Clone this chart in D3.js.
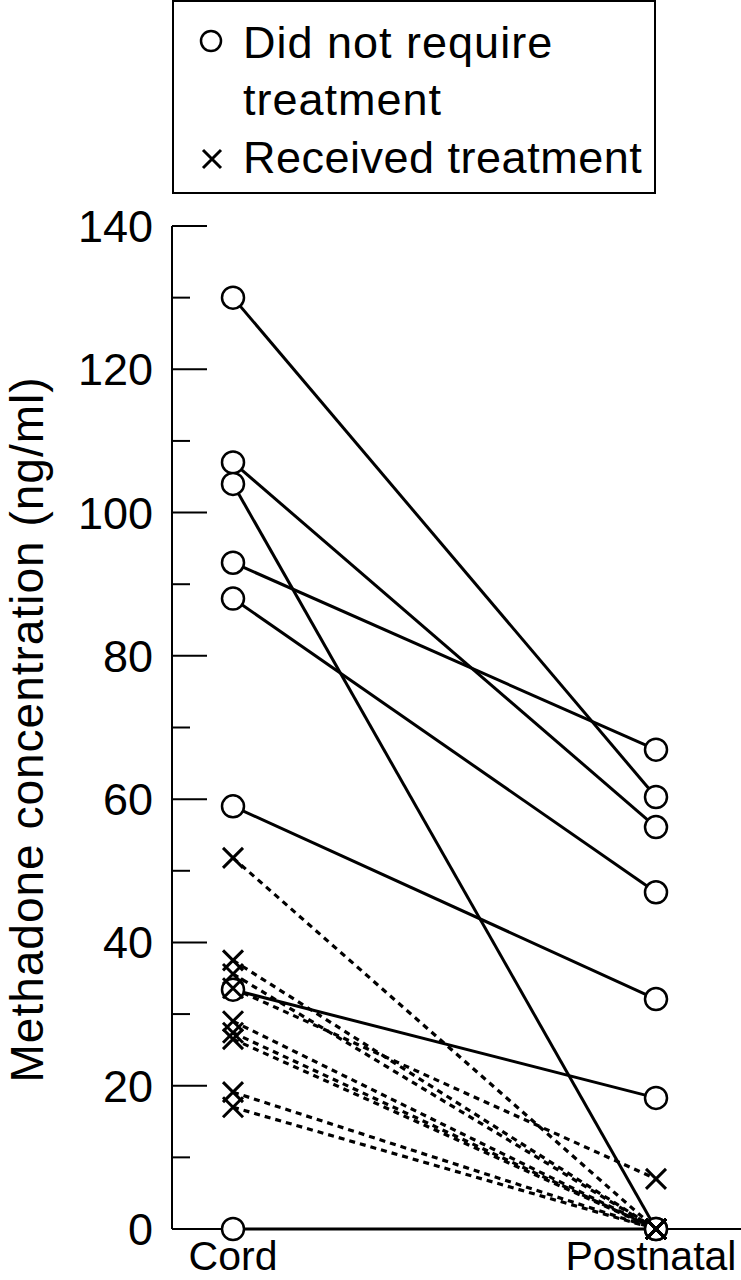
<!DOCTYPE html>
<html>
<head>
<meta charset="utf-8">
<script src="https://cdn.jsdelivr.net/npm/d3@7"></script>
<style>
  html, body { margin: 0; padding: 0; background: #fff; }
  svg { display: block; }
  text { font-family: "Liberation Sans", Arial, sans-serif; fill: #000; }
</style>
</head>
<body>
<div id="chart"></div>
<script>
// Paired methadone concentrations, cord vs postnatal
const timepoints = ['Cord', 'Postnatal'];
const untreatedCord      = [130, 107, 104, 93, 88, 59, 33.4, 0];
const untreatedPostnatal = [60.3, 56.1, 0, 66.9, 47, 32.1, 18.3, 0];
const treatedCord        = [51.8, 37.5, 35.6, 33.6, 29, 27.4, 26.5, 19.1, 17];
const treatedPostnatal   = [0, 0, 0, 7, 0, 0, 0, 0, 0];
const yTicksMajor = [0, 20, 40, 60, 80, 100, 120, 140];
const yTicksMinor = [10, 30, 50, 70, 90, 110, 130];
const legendLabels = [['Did not require', 'treatment'], ['Received treatment']];

const width = 741, height = 1280;
const margin = { top: 226, bottom: 51, left: 172 };

const svg = d3.select('#chart').append('svg')
    .attr('width', width)
    .attr('height', height);

const x = d3.scalePoint().domain(timepoints).range([233, 656]);
const y = d3.scaleLinear().domain([0, 140]).range([height - margin.bottom, margin.top]);

// Y axis: long ticks with labels, short ticks between
const yAxis = svg.append('g').attr('transform', `translate(${margin.left},0)`);
yAxis.append('line')
    .attr('x1', 0).attr('x2', 0)
    .attr('y1', y(140)).attr('y2', y(0))
    .attr('stroke', '#000').attr('stroke-width', 2);
yAxis.selectAll('.major').data(yTicksMajor).join('line')
    .attr('x1', 0).attr('x2', 35)
    .attr('y1', d => y(d)).attr('y2', d => y(d))
    .attr('stroke', '#000').attr('stroke-width', 2);
yAxis.selectAll('.minor').data(yTicksMinor).join('line')
    .attr('x1', 0).attr('x2', 18)
    .attr('y1', d => y(d)).attr('y2', d => y(d))
    .attr('stroke', '#000').attr('stroke-width', 2);
yAxis.selectAll('text').data(yTicksMajor).join('text')
    .attr('x', -19)
    .attr('y', d => y(d) + 16)
    .attr('text-anchor', 'end')
    .style('font-size', '45px')
    .text(d => d);

// X axis baseline
svg.append('line')
    .attr('x1', margin.left).attr('x2', width)
    .attr('y1', y(0)).attr('y2', y(0))
    .attr('stroke', '#000').attr('stroke-width', 2);

// category labels; Postnatal nudged left so it stays inside the frame
svg.selectAll('.xlabel').data(timepoints).join('text')
    .attr('x', d => x(d) - (d === 'Postnatal' ? 5 : 0))
    .attr('y', 1270)
    .attr('text-anchor', 'middle')
    .style('font-size', '41px')
    .text(d => d);

// Y label
svg.append('text')
    .attr('transform', 'rotate(-90)')
    .attr('x', -(y(0) + y(140)) / 2 - 2)
    .attr('y', 43)
    .attr('text-anchor', 'middle')
    .style('font-size', '46px')
    .style('letter-spacing', '1px')
    .text('Methadone concentration (ng/ml)');

// Lines
const lines = svg.append('g');
treatedCord.forEach((v, i) => {
    lines.append('line')
        .attr('x1', x('Cord')).attr('y1', y(v))
        .attr('x2', x('Postnatal')).attr('y2', y(treatedPostnatal[i]))
        .attr('stroke', '#000').attr('stroke-width', 3.2)
        .attr('stroke-dasharray', '6,5');
});
untreatedCord.forEach((v, i) => {
    lines.append('line')
        .attr('x1', x('Cord')).attr('y1', y(v))
        .attr('x2', x('Postnatal')).attr('y2', y(untreatedPostnatal[i]))
        .attr('stroke', '#000').attr('stroke-width', 3);
});

// Markers
function drawCross(g, cx, cy, s) {
    g.append('path')
        .attr('d', `M${cx - s},${cy - s}L${cx + s},${cy + s}M${cx - s},${cy + s}L${cx + s},${cy - s}`)
        .attr('stroke', '#000').attr('stroke-width', 3).attr('fill', 'none');
}
function drawCircle(g, cx, cy, r) {
    g.append('circle')
        .attr('cx', cx).attr('cy', cy).attr('r', r)
        .attr('fill', '#fff').attr('stroke', '#000').attr('stroke-width', 2.5);
}

const marks = svg.append('g');
untreatedCord.forEach((v, i) => {
    drawCircle(marks, x('Cord'), y(v), 11);
    drawCircle(marks, x('Postnatal'), y(untreatedPostnatal[i]), 11);
});
treatedCord.forEach((v, i) => {
    drawCross(marks, x('Cord'), y(v), 10);
    drawCross(marks, x('Postnatal'), y(treatedPostnatal[i]), 10);
});

// Legend
const legend = svg.append('g');
legend.append('rect')
    .attr('x', 173).attr('y', 1)
    .attr('width', 482).attr('height', 192)
    .attr('fill', '#fff').attr('stroke', '#000').attr('stroke-width', 2);
drawCircle(legend, 211, 41, 10);
drawCross(legend, 212, 159, 9);
legend.append('text')
    .attr('x', 243).attr('y', 58)
    .style('font-size', '45px')
    .style('letter-spacing', '1px')
    .selectAll('tspan').data(legendLabels[0]).join('tspan')
    .attr('x', 243).attr('dy', (d, i) => i === 0 ? 0 : 57)
    .text(d => d);
legend.append('text')
    .attr('x', 243).attr('y', 173)
    .style('font-size', '45px')
    .style('letter-spacing', '0.5px')
    .text(legendLabels[1][0]);
</script>
</body>
</html>
